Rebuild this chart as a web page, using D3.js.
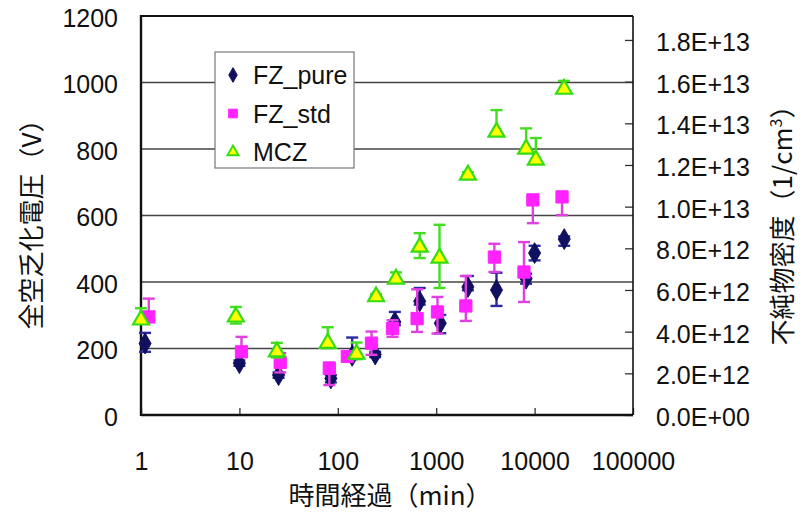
<!DOCTYPE html>
<html>
<head>
<meta charset="utf-8">
<script src="https://cdnjs.cloudflare.com/ajax/libs/d3/7.8.5/d3.min.js"></script>
<style>
  body { margin: 0; background: #fff; }
  text { font-family: "Liberation Sans", Arial, sans-serif; fill: #111; }
  .cjk { font-family: "Noto Sans CJK JP", sans-serif; }
</style>
</head>
<body>
<div class="chart"></div>
<script>
// data
const seriesNames = ["FZ_pure", "FZ_std", "MCZ"];

const pureTime = [1.1, 10, 25, 85, 140, 240, 380, 680, 1100, 2100, 4100, 8200, 10000, 20000];
const pureVolt = [215, 156, 120, 110, 178, 182, 280, 342, 276, 385, 376, 410, 487, 529];
const pureUp   = [32, 8, 8, 10, 55, 8, 30, 40, 25, 33, 52, 15, 22, 8];
const pureDown = [25, 8, 8, 12, 10, 8, 10, 10, 30, 10, 48, 15, 22, 20];

const stdTime = [1.2, 10.5, 26, 82, 125, 220, 360, 640, 1030, 2000, 3900, 7800, 9600, 19000];
const stdVolt = [295, 190, 158, 140, 176, 216, 260, 290, 310, 328, 475, 430, 647, 656];
const stdUp   = [55, 45, 28, 18, 10, 35, 25, 88, 45, 90, 40, 90, 10, 8];
const stdDown = [15, 15, 30, 50, 10, 35, 25, 40, 65, 45, 45, 90, 70, 55];

const mczTime = [1.0, 9.2, 24, 79, 155, 245, 390, 680, 1080, 2100, 4100, 8200, 10300, 19900];
const mczVolt = [286, 295, 190, 216, 183, 356, 409, 505, 472, 722, 851, 800, 767, 980];
const mczUp   = [35, 30, 27, 48, 35, 8, 20, 42, 100, 8, 66, 62, 66, 25];
const mczDown = [10, 20, 17, 15, 15, 8, 8, 33, 90, 8, 10, 10, 10, 8];

const xTicks = [1, 10, 100, 1000, 10000, 100000];
const leftTicks = [0, 200, 400, 600, 800, 1000, 1200];
const rightTicks = [0, 2e12, 4e12, 6e12, 8e12, 1e13, 1.2e13, 1.4e13, 1.6e13, 1.8e13];

const width = 805, height = 512;
const plotL = 141, plotR = 633, plotT = 16, plotB = 415;

const svg = d3.select('.chart')
  .append('svg')
  .attr('width', width)
  .attr('height', height);

const x = d3.scaleLog().domain([1, 100000]).range([plotL, plotR]);
const y = d3.scaleLinear().domain([0, 1200]).range([plotB, plotT]);
const y2 = d3.scaleLinear().domain([0, 1.915e13]).range([plotB, plotT]);

function sci(v) {
  if (v === 0) return "0.0E+00";
  const e = Math.floor(Math.log10(v) + 1e-9);
  const m = v / Math.pow(10, e);
  return m.toFixed(1) + "E+" + String(e).padStart(2, "0");
}

// gridlines
svg.append('g')
  .selectAll('line')
  .data(leftTicks.filter(d => d > 0 && d < 1200))
  .enter()
  .append('line')
  .attr('x1', plotL).attr('x2', plotR)
  .attr('y1', d => y(d)).attr('y2', d => y(d))
  .attr('stroke', '#444')
  .attr('stroke-width', 1.4);

// left axis labels
const yAxis = d3.axisLeft(y).tickValues(leftTicks).tickSize(0).tickPadding(23)
  .tickFormat(d3.format('d'));
const gy = svg.append('g').attr('transform', `translate(${plotL},2)`).call(yAxis);
gy.select('.domain').remove();
gy.selectAll('text').attr('font-size', 25).attr('fill', '#111')
  .attr('font-family', '"Liberation Sans", Arial, sans-serif');

// right axis
const y2Axis = d3.axisLeft(y2).tickValues(rightTicks).tickSize(8).tickFormat(sci);
const gr = svg.append('g').attr('transform', `translate(${plotR},0)`).call(y2Axis);
gr.select('.domain').remove();
gr.selectAll('line').attr('stroke', '#333').attr('stroke-width', 1.3);
gr.selectAll('text')
  .attr('x', 23).attr('dy', '0.42em')
  .attr('text-anchor', 'start')
  .attr('font-size', 25).attr('fill', '#111')
  .attr('font-family', '"Liberation Sans", Arial, sans-serif');

// bottom axis, ticks point inward
const xAxis = d3.axisTop(x).tickValues(xTicks).tickSize(7).tickFormat(d3.format('d'));
const gx = svg.append('g').attr('transform', `translate(0,${plotB})`).call(xAxis);
gx.select('.domain').remove();
gx.selectAll('line').attr('stroke', '#333').attr('stroke-width', 1.3);
gx.selectAll('text')
  .attr('y', 55).attr('dy', 0)
  .attr('font-size', 25).attr('fill', '#111')
  .attr('font-family', '"Liberation Sans", Arial, sans-serif');

// frame
svg.append('line').attr('x1', plotL).attr('x2', plotR).attr('y1', plotT).attr('y2', plotT)
  .attr('stroke', '#111').attr('stroke-width', 2.2);
svg.append('line').attr('x1', plotR).attr('x2', plotR).attr('y1', plotT).attr('y2', plotB)
  .attr('stroke', '#111').attr('stroke-width', 1.6);
svg.append('line').attr('x1', plotL).attr('x2', plotR).attr('y1', plotB).attr('y2', plotB)
  .attr('stroke', '#111').attr('stroke-width', 2.4);
svg.append('line').attr('x1', plotL).attr('x2', plotL).attr('y1', plotT - 1).attr('y2', plotB + 1)
  .attr('stroke', '#111').attr('stroke-width', 2.4);

// series
const series = [
  {name: seriesNames[0], time: pureTime, volt: pureVolt, up: pureUp, down: pureDown,
   bar: '#2a2aa0', fill: '#101060', stroke: '#101060', shape: d3.symbolDiamond, size: 125},
  {name: seriesNames[1], time: stdTime, volt: stdVolt, up: stdUp, down: stdDown,
   bar: '#e040e0', fill: '#ff22ff', stroke: '#ff22ff', shape: d3.symbolSquare, size: 150},
  {name: seriesNames[2], time: mczTime, volt: mczVolt, up: mczUp, down: mczDown,
   bar: '#44dd22', fill: '#ffff00', stroke: '#33dd11', shape: d3.symbolTriangle, size: 110}
];

series.forEach(s => {
  const pts = s.time.map((t, i) => ({t: t, v: s.volt[i], up: s.up[i], down: s.down[i]}));
  const g = svg.append('g');
  const eb = g.selectAll('g.eb').data(pts).enter().append('g')
    .attr('stroke', s.bar).attr('stroke-width', 2.4);
  eb.append('line')
    .attr('x1', d => x(d.t)).attr('x2', d => x(d.t))
    .attr('y1', d => y(d.v + d.up)).attr('y2', d => y(d.v - d.down));
  eb.append('line')
    .attr('x1', d => x(d.t) - 6).attr('x2', d => x(d.t) + 6)
    .attr('y1', d => y(d.v + d.up)).attr('y2', d => y(d.v + d.up));
  eb.append('line')
    .attr('x1', d => x(d.t) - 6).attr('x2', d => x(d.t) + 6)
    .attr('y1', d => y(d.v - d.down)).attr('y2', d => y(d.v - d.down));
  g.selectAll('path').data(pts).enter().append('path')
    .attr('d', d3.symbol().type(s.shape).size(s.size))
    .attr('transform', d => `translate(${x(d.t)},${y(d.v)})`)
    .attr('fill', s.fill)
    .attr('stroke', s.stroke)
    .attr('stroke-width', s.shape === d3.symbolTriangle ? 2.2 : 1);
});

// legend
const legend = svg.append('g');
legend.append('rect')
  .attr('x', 215).attr('y', 52).attr('width', 139).attr('height', 116)
  .attr('fill', '#fff').attr('stroke', '#777').attr('stroke-width', 1.2);
const li = legend.selectAll('g.item').data(series).enter().append('g')
  .attr('transform', (d, i) => `translate(233,${75 + i * 38.5})`);
li.append('path')
  .attr('d', d => d3.symbol().type(d.shape).size(d.size * 0.5)())
  .attr('fill', d => d.fill).attr('stroke', d => d.stroke)
  .attr('stroke-width', d => d.shape === d3.symbolTriangle ? 1.8 : 1);
li.append('text')
  .attr('x', 20).attr('dy', '0.36em')
  .attr('font-size', 25)
  .text(d => d.name);

// axis titles
svg.append('text')
  .attr('class', 'cjk')
  .attr('x', 390).attr('y', 505)
  .attr('text-anchor', 'middle')
  .attr('font-size', 26)
  .text('時間経過（min）');

svg.append('text')
  .attr('class', 'cjk')
  .attr('transform', 'translate(41,218) rotate(-90)')
  .attr('text-anchor', 'middle')
  .attr('font-size', 26)
  .text('全空乏化電圧（V）');

const rt = svg.append('text')
  .attr('class', 'cjk')
  .attr('transform', 'translate(792,219) rotate(-90)')
  .attr('text-anchor', 'middle')
  .attr('font-size', 26);
rt.append('tspan').text('不純物密度（1/cm');
rt.append('tspan').attr('dy', -10).attr('font-size', 16).text('3');
rt.append('tspan').attr('dy', 10).text('）');
</script>
</body>
</html>
